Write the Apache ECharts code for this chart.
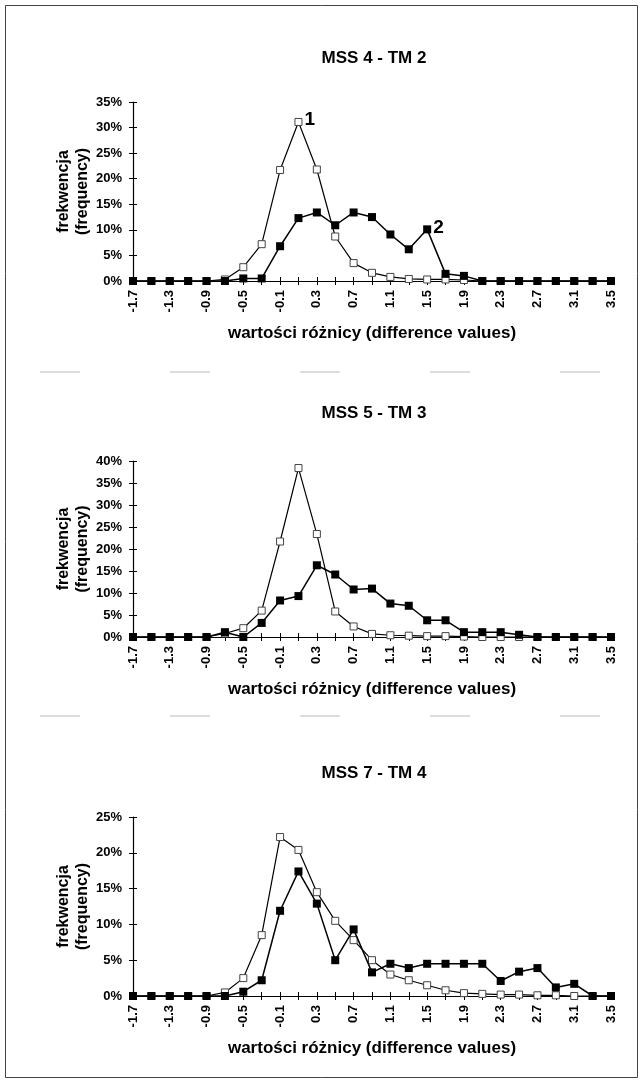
<!DOCTYPE html>
<html><head><meta charset="utf-8">
<script src="https://cdn.jsdelivr.net/npm/echarts@6/dist/echarts.min.js"></script>
<style>html,body{margin:0;padding:0;background:#fff}#c{width:640px;height:1081px}</style>
</head><body><div id="c"></div>
<script>
// ---- data ----
const categories = ['-1.7','-1.5','-1.3','-1.1','-0.9','-0.7','-0.5','-0.3','-0.1','0.1','0.3','0.5','0.7','0.9','1.1','1.3','1.5','1.7','1.9','2.1','2.3','2.5','2.7','2.9','3.1','3.3','3.5'];
const titles = ['MSS 4 - TM 2', 'MSS 5 - TM 3', 'MSS 7 - TM 4'];
const yMax = [35, 40, 25];
const yStep = 5;
const xName = 'wartości różnicy (difference values)';
const yName = 'frekwencja\n(frequency)';
const seriesTags = ['1', '2'];
const tagIndex = [9, 16];   // category index carrying the series tag (panel 1)

// series 1 = white squares, series 2 = black squares (values in %)
const mss4tm2_s1 = [0,0,0,0,0,0.3,2.7,7.2,21.7,31.1,21.8,8.7,3.5,1.6,0.8,0.4,0.3,0.3,0.2,0,0,0,0,0,0,0,0];
const mss4tm2_s2 = [0,0,0,0,0,0,0.5,0.5,6.8,12.3,13.4,10.9,13.4,12.5,9.1,6.2,10.1,1.4,1.0,0,0,0,0,0,0,0,0];
const mss5tm3_s1 = [0,0,0,0,0,0.8,2.0,6.0,21.7,38.4,23.4,5.8,2.4,0.7,0.4,0.3,0.2,0.2,0.1,0,0,0,0,0,0,0,0];
const mss5tm3_s2 = [0,0,0,0,0,1.1,0,3.2,8.3,9.3,16.3,14.2,10.8,11.0,7.6,7.1,3.8,3.8,1.1,1.1,1.1,0.5,0,0,0,0,0];
const mss7tm4_s1 = [0,0,0,0,0,0.5,2.5,8.5,22.2,20.4,14.5,10.5,7.8,5.0,3.0,2.2,1.5,0.8,0.4,0.3,0.2,0.2,0.1,0.1,0,0,0];
const mss7tm4_s2 = [0,0,0,0,0,0,0.6,2.2,11.9,17.4,12.9,5.0,9.3,3.3,4.5,3.9,4.5,4.5,4.5,4.5,2.1,3.4,3.9,1.2,1.7,0,0];

const panels = [
  {s1: mss4tm2_s1, s2: mss4tm2_s2, tags: true},
  {s1: mss5tm3_s1, s2: mss5tm3_s2, tags: false},
  {s1: mss7tm4_s1, s2: mss7tm4_s2, tags: false}
];

// ---- layout ----
const FONT = '"Liberation Sans", Arial, sans-serif';
const gridPos = [{top:102,height:179},{top:461,height:176},{top:817,height:179}];
const titleY = [58, 413, 773];
const LEFT = 133, RIGHT = 29;

const grid = [], xAxis = [], yAxis = [], series = [], graphic = [];
const txt = {color:'#000', fontFamily:FONT, fontWeight:'bold'};

function tagged(arr, k, tag){
  return arr.map((v,i)=> i===k ? {value:v, label:{show:true, formatter:tag, position:'right', distance:2, offset:[0,-2], fontSize:19, ...txt}} : v);
}

panels.forEach((p, i) => {
  grid.push({left:LEFT, right:RIGHT, top:gridPos[i].top, height:gridPos[i].height});
  xAxis.push({
    type:'category', gridIndex:i, data:categories, boundaryGap:false,
    axisLine:{lineStyle:{color:'#000', width:1.2}},
    axisTick:{interval:0, length:4, lineStyle:{color:'#000'}},
    axisLabel:{interval:1, rotate:90, margin:9, fontSize:13, ...txt},
    name:xName, nameLocation:'middle', nameGap:44, nameMoveOverlap:false,
    nameTextStyle:{fontSize:17, ...txt}
  });
  xAxis.push({
    type:'category', gridIndex:i, data:categories, boundaryGap:false, position:'bottom',
    axisLine:{show:false}, axisTick:{inside:true, interval:0, length:4, lineStyle:{color:'#000'}},
    axisLabel:{show:false}
  });
  yAxis.push({
    type:'value', gridIndex:i, min:0, max:yMax[i], interval:yStep,
    axisLine:{show:true, lineStyle:{color:'#000', width:1.2}},
    axisTick:{show:true, length:4, lineStyle:{color:'#000'}},
    splitLine:{show:false},
    axisLabel:{formatter:'{value}%', margin:11, fontSize:13, ...txt},
    name:yName, nameLocation:'middle', nameRotate:90, nameGap:41, nameMoveOverlap:false,
    nameTextStyle:{fontSize:16, lineHeight:19, ...txt}
  });
  yAxis.push({
    type:'value', gridIndex:i, min:0, max:yMax[i], interval:yStep, position:'left',
    axisLine:{show:false}, axisTick:{show:true, inside:true, length:4, lineStyle:{color:'#000'}},
    splitLine:{show:false}, axisLabel:{show:false}
  });
  series.push({
    type:'line', xAxisIndex:2*i, yAxisIndex:2*i,
    data: p.tags ? tagged(p.s1, tagIndex[0], seriesTags[0]) : p.s1,
    symbol:'rect', symbolSize:7, showAllSymbol:true,
    itemStyle:{color:'#fff', borderColor:'#444', borderWidth:1},
    lineStyle:{color:'#000', width:1.2}, z:2
  });
  series.push({
    type:'line', xAxisIndex:2*i, yAxisIndex:2*i,
    data: p.tags ? tagged(p.s2, tagIndex[1], seriesTags[1]) : p.s2,
    symbol:'rect', symbolSize:8, showAllSymbol:true,
    itemStyle:{color:'#000'},
    lineStyle:{color:'#000', width:1.5}, z:3
  });
  graphic.push({
    type:'text', x: LEFT + (640-LEFT-RIGHT)/2 + 2, y: titleY[i],
    style:{text:titles[i], textAlign:'center', textVerticalAlign:'middle', fontSize:17, fontWeight:'bold', fontFamily:FONT, fill:'#000'}
  });
});

graphic.push({type:'rect', shape:{x:5.5, y:5.5, width:632, height:1072}, style:{fill:'none', stroke:'#444', lineWidth:1}});
[372, 716].forEach(y => graphic.push({type:'line', shape:{x1:40, y1:y, x2:630, y2:y}, style:{stroke:'#bbb', lineWidth:1, lineDash:[40,90]}}));

const chart = echarts.init(document.getElementById('c'), null, {renderer:'canvas'});
chart.setOption({animation:false, backgroundColor:'#fff', grid, xAxis, yAxis, series, graphic});
</script></body></html>
